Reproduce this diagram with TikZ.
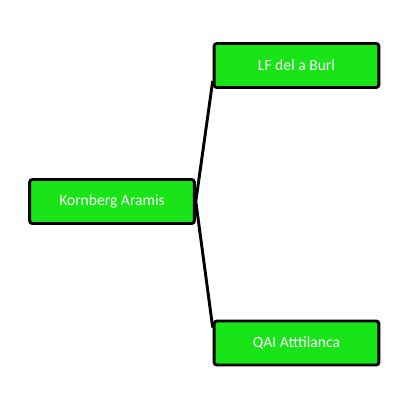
\documentclass[tikz,border=0pt]{standalone}
\usepackage{fontspec}
\setmainfont{Carlito}
\definecolor{boxgreen}{RGB}{24,228,24}
\tikzset{
	namebox/.style={draw=black, line width=2.2pt, fill=boxgreen, rounded corners=2pt,
		minimum width=123.5pt, minimum height=33pt, inner sep=0pt,
		text=white, font=\fontsize{11.7}{13}\selectfont},
	link/.style={black, line width=2.2pt}
}
\begin{document}
\begin{tikzpicture}[x=0.75pt, y=-0.75pt]
		\useasboundingbox (0, 0) rectangle (410, 410);

		\node[namebox] (kornberg) at (112, 201.5) {Kornberg Aramis};
		\node[namebox] (lfdel) at (296.5, 65.5) {LF del a Burl};
		\node[namebox] (qai) at (296.5, 343) {QAI Atttilanca};

		\draw[link] (kornberg.east) -- ([yshift=6pt]lfdel.south west);
		\draw[link] (kornberg.east) -- ([yshift=-6pt]qai.north west);
	\end{tikzpicture}
\end{document}
